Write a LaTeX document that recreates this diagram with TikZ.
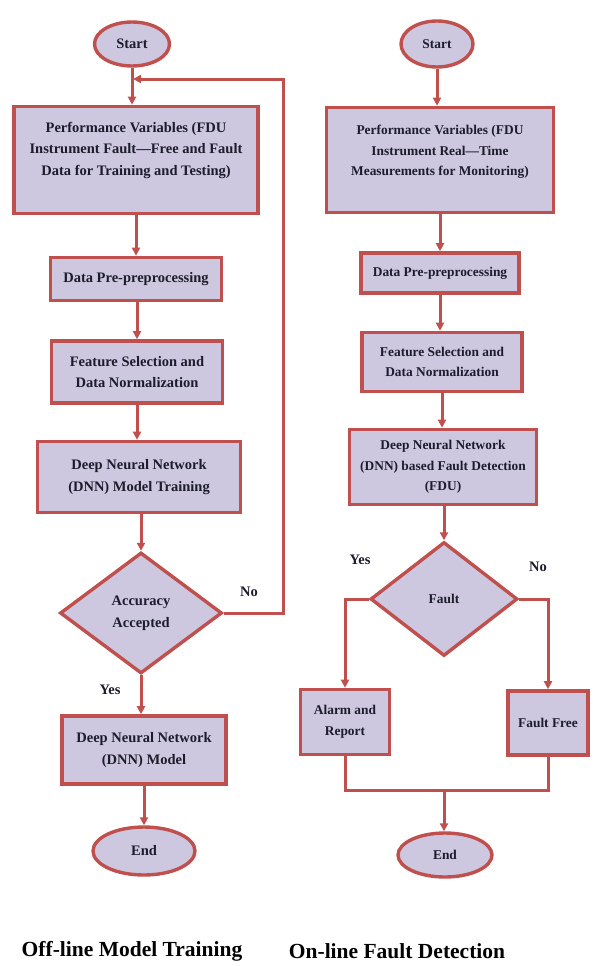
\documentclass[tikz,border=0pt]{standalone}
\usepackage{fontspec}
\setmainfont{Liberation Serif}
\usetikzlibrary{shapes.geometric,arrows.meta,calc}
\definecolor{edge}{HTML}{C0504D}
\definecolor{boxfill}{HTML}{CDC8DF}
\definecolor{ink}{HTML}{1C1C2C}
\tikzset{
  x=1pt, y=-1pt,
  every node/.style={font=\bfseries\fontsize{14.5}{21.5}\selectfont, text=ink, align=center},
  small/.style={font=\bfseries\fontsize{13.4}{20.5}\selectfont},
  stepbox/.style={draw=edge, fill=boxfill, line width=3.6pt, rectangle, inner sep=0pt},
  termbox/.style={draw=edge, fill=boxfill, line width=3.4pt, ellipse, inner sep=0pt},
  decbox/.style={draw=edge, fill=boxfill, line width=3.4pt, diamond, inner sep=0pt},
  flow/.style={draw=edge, line width=3pt, -{Triangle[length=8pt,width=8pt]}},
  plain/.style={draw=edge, line width=3pt},
  lbl/.style={font=\bfseries\fontsize{14.5}{17}\selectfont, text=ink},
  caption/.style={font=\bfseries\fontsize{21.5}{24}\selectfont, text=black}
}
\begin{document}
\begin{tikzpicture}
\useasboundingbox (0,0) rectangle (595,966);
\fill[white] (0,0) rectangle (595,966);

% ---------- off-line model training ----------
\node[termbox, minimum width=75, minimum height=44] (sL) at (132,44) {Start};
\node[stepbox, minimum width=244, minimum height=107] (pL) at (136,160) {};
\node (pLt) at (136,150) {Performance Variables (FDU\\Instrument Fault---Free and Fault\\Data for Training and Testing)};
\node[stepbox, minimum width=171, minimum height=43] (dL) at (136,279) {Data Pre-preprocessing};
\node[stepbox, minimum width=171, minimum height=62] (fL) at (137,372) {Feature Selection and\\Data Normalization};
\node[stepbox, minimum width=203, minimum height=71] (nL) at (139,477) {Deep Neural Network\\(DNN) Model Training};
\node[decbox, minimum width=162, minimum height=121] (aL) at (141,613) {Accuracy\\Accepted};
\node[stepbox, minimum width=164, minimum height=68] (mL) at (144,750) {Deep Neural Network\\(DNN) Model};
\node[termbox, minimum width=102, minimum height=48] (eL) at (144,851) {End};

\coordinate (loopR) at (283,613);
\coordinate (loopT) at (283,79);
\coordinate (loopIn) at (133,79);

\draw[flow] (sL.south) -- (sL.south |- pL.north);
\draw[flow] (pL.south) -- (dL.north);
\draw[flow] (dL.south -| fL.north) -- (fL.north);
\draw[flow] (fL.south) -- (fL.south |- nL.north);
\draw[flow] (nL.south -| aL.north) -- (aL.north);
\draw[flow] (aL.south) -- (aL.south |- mL.north);
\draw[flow] (mL.south) -- (eL.north);
\draw[plain] (aL.east) -- (loopR) -- (loopT) -- ($(loopIn)+(4,0)$);
\draw[flow] (loopT) -- (loopIn);

\node[lbl] (noL) at (249,592) {No};
\node[lbl] (yesL) at (110,690) {Yes};

% ---------- on-line fault detection ----------
\begin{scope}[every node/.append style={small}]
\node[termbox, minimum width=72, minimum height=46] (sR) at (437,44) {Start};
\node[stepbox, minimum width=227, minimum height=105] (pR) at (440,160) {};
\node (pRt) at (440,152) {Performance Variables (FDU\\Instrument Real---Time\\Measurements for Monitoring)};
\node[stepbox, minimum width=158, minimum height=40] (dR) at (440,273) {Data Pre-preprocessing};
\node[stepbox, minimum width=160, minimum height=59] (fR) at (442,362) {Feature Selection and\\Data Normalization};
\node[stepbox, minimum width=187, minimum height=75] (nR) at (443,467) {Deep Neural Network\\(DNN) based Fault Detection\\(FDU)};
\node[decbox, minimum width=147, minimum height=114] (fault) at (444,599) {Fault};
\node[stepbox, minimum width=89, minimum height=65] (alarm) at (345,722) {Alarm and\\Report};
\node[stepbox, minimum width=80, minimum height=64] (free) at (548,723) {Fault Free};
\node[termbox, minimum width=94, minimum height=44] (eR) at (445,855) {End};
\end{scope}

\coordinate (join) at (444,790);

\draw[flow] (sR.south) -- (sR.south |- pR.north);
\draw[flow] (pR.south) -- (dR.north);
\draw[flow] (dR.south) -- (dR.south |- fR.north);
\draw[flow] (fR.south) -- (fR.south |- nR.north);
\draw[flow] (nR.south -| fault.north) -- (fault.north);
\draw[flow] (fault.west) -| (alarm.north);
\draw[flow] (fault.east) -| (free.north);
\draw[plain] (alarm.south) |- (join) -| (free.south);
\draw[flow] (join) -- (join |- eR.north);

\node[lbl] (yesR) at (360,560) {Yes};
\node[lbl] (noR) at (538,567) {No};

% ---------- captions ----------
\node[caption] (capL) at (132,951) {Off-line Model Training};
\node[caption] (capR) at (397,951) {On-line Fault Detection};
\end{tikzpicture}
\end{document}
